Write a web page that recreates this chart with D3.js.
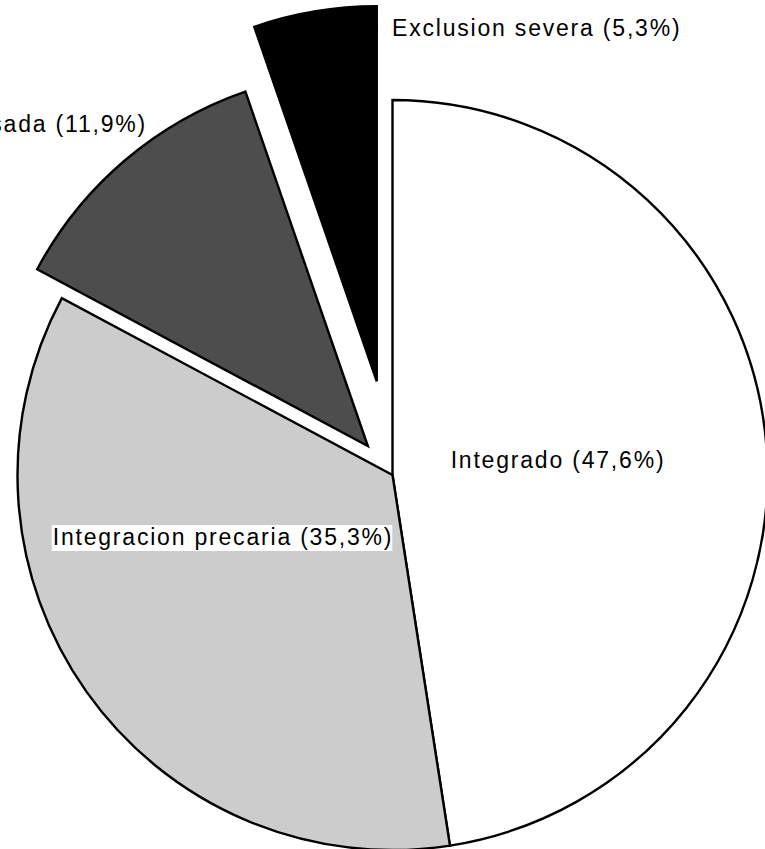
<!DOCTYPE html>
<html lang='es'>
<head>
    <meta charset='UTF-8'>
    <title>Pie</title>
    <style>
        body { margin: 0; background: #fff; }
        text { font-family: 'Liberation Sans', Arial, sans-serif; font-size: 23px; letter-spacing: 1.8px; fill: #000; }
    </style>
</head>
<body>
<div id="chart-area"></div>
<script src='https://d3js.org/d3.v7.min.js'></script>
<script>
    const categories = ['Integrado', 'Integracion precaria', 'Exclusion compensada', 'Exclusion severa'];
    const values = [47.6, 35.3, 11.9, 5.3];
    const fills = ['#ffffff', '#cccccc', '#4d4d4d', '#000000'];

    // how far each slice is pulled out, and where its label sits
    const explode = [0, 0, 38, 95];
    const labelAt = [[558, 468, 'middle'], [223, 545, 'middle'], [147, 132, 'end'], [392, 36, 'start']];

    const width = 765, height = 849;
    const cx = 392.5, cy = 475, radius = 375;

    const svg = d3.select('#chart-area').append('svg')
        .attr('width', width)
        .attr('height', height);

    const pie = d3.pie().sort(null).value(d => d.v);
    const arc = d3.arc().innerRadius(0).outerRadius(radius);

    const data = categories.map((c, i) => ({c, v: values[i], i}));
    const arcs = pie(data);

    const g = svg.append('g').attr('transform', `translate(${cx}, ${cy})`);

    g.selectAll('path')
        .data(arcs)
        .enter().append('path')
        .attr('d', arc)
        .attr('transform', d => {
            const a = (d.startAngle + d.endAngle) / 2;
            const o = explode[d.data.i];
            return `translate(${o * Math.sin(a)}, ${-o * Math.cos(a)})`;
        })
        .attr('fill', d => fills[d.data.i])
        .attr('stroke', '#000')
        .attr('stroke-width', 2.4)
        .attr('stroke-linejoin', 'miter');

    const fmt = v => d3.format('.1f')(v).replace('.', ',');

    const labels = svg.append('g');
    data.forEach((d, i) => {
        const [x, y, anchor] = labelAt[i];
        const t = labels.append('text')
            .attr('x', x)
            .attr('y', y)
            .attr('text-anchor', anchor)
            .text(`${d.c} (${fmt(d.v)}%)`);
        if (i === 1) {
            const b = t.node().getBBox();
            labels.insert('rect', 'text')
                .attr('x', b.x - 1)
                .attr('y', b.y + 1)
                .attr('width', b.width)
                .attr('height', b.height)
                .attr('fill', '#fff');
        }
    });
</script>
</body>
</html>
